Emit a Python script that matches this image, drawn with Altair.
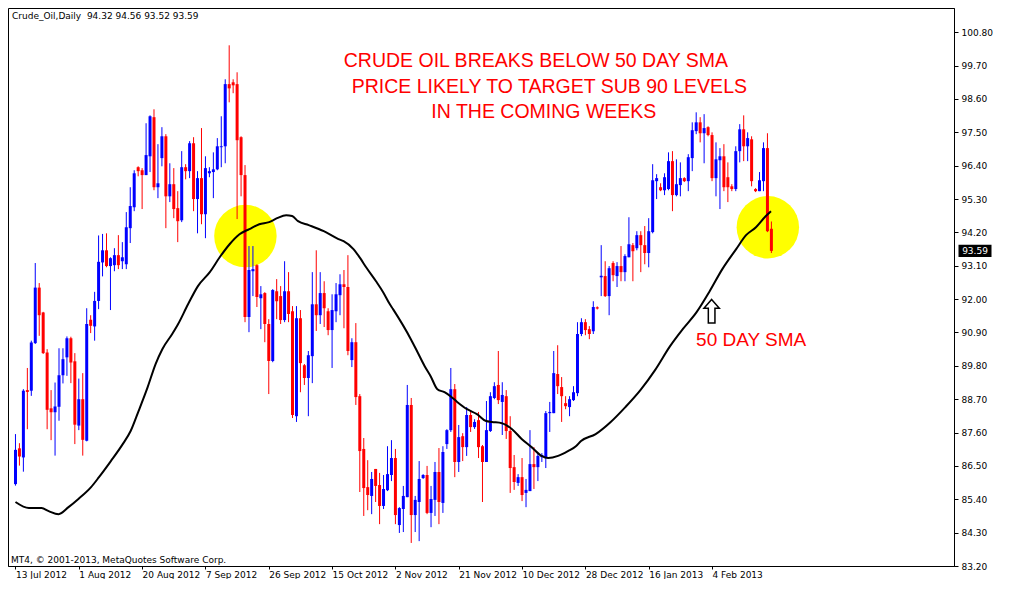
import json
import altair as alt
import pandas as pd

# ---------------- data ----------------
opens = [85.90, 87.08, 86.78, 89.00, 88.98, 90.55, 92.38, 91.56, 90.24, 88.40,
         88.27, 88.45, 89.49, 90.08, 90.71, 89.95, 87.83, 88.70, 87.33, 91.32,
         91.10, 91.94, 93.21, 93.61, 93.09, 93.12, 93.45, 93.25, 93.15, 94.34,
         95.03, 96.35, 96.25, 96.09, 96.71, 98.00, 95.69, 96.65, 97.37, 95.39,
         95.79, 95.00, 94.60, 96.35, 96.22, 97.14, 95.30, 95.99, 94.80, 96.15,
         96.19, 96.28, 97.01, 97.04, 99.09, 99.15, 99.09, 97.34, 96.09, 91.41,
         92.92, 93.12, 92.03, 92.20, 91.18, 89.96, 92.26, 92.10, 91.31, 92.26,
         91.60, 88.14, 91.37, 89.82, 89.40, 90.12, 91.83, 91.47, 92.20, 91.60,
         90.98, 91.60, 92.13, 92.49, 92.40, 89.99, 90.58, 88.80, 87.06, 85.80,
         85.51, 86.40, 85.87, 85.18, 85.70, 86.20, 86.76, 84.55, 85.08, 85.47,
         88.51, 84.88, 85.31, 86.10, 86.20, 84.95, 85.38, 86.30, 85.28, 87.22,
         87.68, 89.03, 86.63, 87.48, 87.12, 88.18, 87.78, 88.01, 87.15, 86.63,
         87.65, 88.74, 89.17, 88.61, 88.80, 87.65, 86.46, 85.94, 86.13, 85.61,
         85.67, 86.56, 86.46, 86.79, 86.79, 88.24, 88.24, 89.53, 89.10, 88.57,
         88.44, 88.67, 88.90, 90.85, 91.24, 91.01, 90.94, 91.73, 92.72, 92.76,
         92.10, 93.19, 92.76, 93.09, 92.89, 93.38, 93.78, 93.68, 94.11, 93.78,
         93.52, 94.21, 95.89, 95.69, 95.59, 95.63, 96.55, 95.43, 95.76, 95.99,
         95.89, 96.65, 97.54, 97.83, 97.47, 97.67, 97.41, 95.99, 96.58, 96.71,
         96.02, 95.72, 95.63, 96.88, 97.60, 97.04, 97.27, 95.63, 95.56, 95.89,
         96.98, 94.32]
highs = [87.55, 87.25, 89.03, 89.73, 90.63, 93.19, 92.53, 91.58, 90.35, 89.00,
         89.25, 90.38, 90.38, 90.77, 90.76, 90.22, 89.38, 89.56, 91.70, 91.47,
         92.24, 94.10, 94.15, 94.17, 93.38, 93.68, 94.11, 93.88, 94.87, 95.69,
         96.25, 96.38, 96.32, 97.80, 98.06, 98.26, 97.11, 97.67, 97.44, 96.48,
         96.32, 95.56, 96.88, 96.45, 97.21, 97.34, 96.22, 97.64, 96.71, 96.35,
         96.84, 97.31, 98.03, 99.25, 100.37, 99.25, 99.48, 97.37, 96.42, 93.75,
         93.75, 93.15, 92.43, 92.23, 91.34, 92.33, 92.66, 92.43, 93.25, 92.89,
         91.77, 91.77, 91.64, 89.86, 90.29, 92.89, 93.61, 92.89, 92.59, 91.70,
         92.16, 92.53, 92.82, 92.96, 93.45, 90.71, 91.21, 88.87, 87.42, 86.69,
         86.30, 86.40, 86.27, 86.20, 87.15, 87.35, 87.06, 85.14, 85.84, 89.17,
         88.74, 85.51, 86.66, 86.23, 86.50, 85.84, 86.63, 87.09, 87.15, 87.71,
         89.73, 89.20, 87.85, 87.58, 88.44, 88.34, 88.04, 88.28, 87.19, 88.64,
         88.93, 89.26, 90.29, 89.26, 89.00, 88.14, 86.86, 86.23, 86.76, 86.07,
         87.68, 87.12, 86.92, 86.92, 88.31, 88.61, 90.29, 90.48, 89.43, 88.80,
         88.80, 89.13, 91.24, 91.37, 91.34, 91.11, 91.93, 91.76, 93.78, 93.25,
         93.09, 93.25, 93.22, 93.75, 93.48, 94.70, 93.85, 94.24, 94.24, 94.41,
         94.67, 96.45, 96.12, 95.82, 96.15, 96.84, 96.88, 96.61, 96.51, 96.02,
         96.78, 97.83, 98.16, 98.00, 98.10, 97.70, 97.50, 97.17, 96.98, 97.11,
         96.51, 95.79, 97.04, 97.77, 98.06, 97.50, 97.37, 95.66, 96.19, 97.17,
         97.47, 94.56]
lows = [85.85, 86.51, 86.31, 87.71, 88.81, 90.52, 90.79, 90.19, 87.71, 87.35,
        86.84, 87.99, 89.22, 89.47, 89.23, 87.22, 87.68, 86.84, 87.31, 90.88,
        90.63, 91.67, 92.75, 93.05, 91.64, 92.92, 92.99, 92.99, 92.99, 93.85,
        94.90, 96.05, 94.97, 96.09, 96.19, 95.59, 95.33, 96.38, 94.34, 95.20,
        94.67, 93.88, 94.54, 95.95, 95.99, 94.90, 94.17, 94.47, 94.01, 96.02,
        95.33, 96.25, 96.35, 96.48, 98.49, 98.79, 94.64, 95.39, 91.24, 90.91,
        92.10, 91.74, 91.01, 90.58, 88.87, 89.92, 91.34, 91.18, 91.24, 91.24,
        88.08, 87.95, 88.93, 89.17, 88.14, 89.23, 90.95, 91.18, 91.08, 90.81,
        89.73, 91.24, 91.47, 91.04, 90.15, 89.76, 88.51, 85.64, 84.85, 85.04,
        84.91, 85.31, 84.58, 85.08, 85.67, 86.00, 84.58, 84.29, 84.32, 85.47,
        83.96, 84.32, 84.02, 86.07, 84.91, 84.48, 84.85, 84.58, 84.95, 87.06,
        87.62, 86.13, 86.30, 86.66, 86.83, 87.62, 87.72, 86.76, 85.31, 86.63,
        87.62, 88.70, 88.54, 87.52, 87.39, 85.61, 85.71, 85.84, 85.34, 85.14,
        85.67, 85.74, 86.00, 86.63, 86.43, 87.62, 88.24, 88.87, 87.95, 88.37,
        88.14, 88.64, 88.80, 90.78, 90.81, 90.68, 90.85, 91.66, 92.10, 92.07,
        91.47, 92.59, 92.40, 92.59, 92.59, 93.38, 92.59, 93.61, 92.89, 93.15,
        93.05, 94.17, 95.30, 95.56, 95.43, 95.59, 94.90, 95.39, 95.39, 95.86,
        95.56, 96.22, 97.44, 97.17, 96.48, 97.37, 95.89, 95.39, 94.97, 95.56,
        95.20, 95.56, 95.56, 96.51, 96.55, 96.55, 95.72, 95.53, 95.56, 95.56,
        94.21, 93.52]
closes = [87.03, 86.81, 88.98, 88.94, 90.57, 92.38, 91.47, 90.22, 88.35, 88.27,
          88.46, 89.49, 90.02, 90.71, 89.91, 87.86, 88.70, 87.36, 91.18, 91.12,
          91.94, 93.23, 93.61, 93.09, 93.35, 93.45, 93.12, 93.38, 94.37, 95.07,
          96.15, 96.22, 96.09, 96.75, 98.03, 95.69, 95.82, 97.37, 95.39, 95.79,
          94.97, 94.57, 96.35, 96.22, 97.14, 95.30, 95.99, 94.80, 96.32, 96.22,
          96.28, 97.04, 97.04, 99.09, 98.95, 99.05, 97.24, 96.09, 91.41, 92.96,
          92.99, 92.07, 92.16, 91.18, 89.96, 92.30, 91.93, 91.31, 92.26, 91.51,
          88.18, 91.37, 89.89, 89.40, 90.15, 91.83, 91.47, 92.20, 91.70, 90.98,
          91.64, 92.16, 92.49, 92.40, 90.29, 90.58, 88.77, 86.99, 85.77, 85.54,
          86.07, 85.84, 85.18, 85.74, 86.23, 86.76, 84.88, 85.11, 85.51, 88.51,
          84.88, 85.38, 86.07, 86.20, 84.95, 85.41, 86.30, 85.31, 86.96, 87.68,
          89.03, 86.63, 87.45, 87.12, 88.18, 87.78, 87.95, 87.12, 86.63, 87.68,
          88.80, 89.13, 88.67, 88.84, 87.65, 86.43, 85.97, 86.13, 85.54, 85.71,
          86.56, 86.46, 86.83, 86.86, 88.24, 88.28, 89.56, 89.13, 88.80, 88.47,
          88.70, 88.93, 90.85, 91.24, 90.98, 90.85, 91.74, 91.69, 92.77, 92.10,
          93.02, 92.79, 93.09, 92.89, 93.42, 93.81, 93.58, 94.11, 93.78, 93.52,
          94.24, 95.92, 95.99, 95.59, 96.02, 96.55, 95.43, 95.79, 95.99, 95.89,
          96.68, 97.57, 97.83, 97.47, 97.64, 97.41, 95.99, 96.61, 96.71, 95.69,
          95.69, 95.63, 96.88, 97.60, 97.04, 97.31, 95.89, 95.56, 95.92, 96.98,
          94.24, 93.59]

# 50-day SMA (bar position, value)
sma_bar = [0, 3.4, 6.6, 8.4, 10.9, 13.4, 15.9, 19.1, 21.1, 24.1, 27.1, 29.1,
           31.1, 33.4, 35.4, 37.1, 39.6, 41.1, 43.6, 46.1, 49.1, 51.6, 54.1,
           56.6, 59.1, 61.6, 64.1, 66.1, 68.4, 69.9, 71.4, 74.1, 77.9, 81.6,
           82.9, 85.4, 87.1, 88.6, 91.1, 92.9, 94.6, 95.4, 99.9, 101.6, 103.4,
           104.9, 106.6, 108.4, 109.9, 111.6, 114.1, 116.6, 118.9, 120.4, 122.9,
           125.4, 127.9, 130.4, 132.9, 134.6, 137.1, 139.6, 141.6, 142.9, 146.6,
           150.4, 154.1, 157.9, 161.6, 165.4, 168.6, 172.1, 175.4, 178.6, 182.1,
           184.6, 187.1, 189.6, 190.9]
sma_val = [85.31, 85.11, 85.11, 85.01, 84.91, 85.14, 85.41, 85.80, 86.13, 86.66,
           87.22, 87.65, 88.31, 89.10, 89.86, 90.35, 90.85, 91.18, 91.83, 92.43,
           92.89, 93.38, 93.81, 94.14, 94.31, 94.47, 94.54, 94.67, 94.77, 94.74,
           94.57, 94.44, 94.24, 93.98, 93.91, 93.65, 93.35, 93.05, 92.59, 92.23,
           91.83, 91.67, 90.68, 90.25, 89.79, 89.46, 89.03, 88.93, 88.80, 88.61,
           88.37, 88.21, 87.98, 87.95, 87.91, 87.72, 87.39, 87.12, 86.83, 86.76,
           86.83, 86.99, 87.15, 87.32, 87.55, 87.95, 88.44, 89.00, 89.66, 90.45,
           91.01, 91.57, 92.26, 92.99, 93.65, 94.11, 94.37, 94.74, 94.90]

x_labels = ["13 Jul 2012", "1 Aug 2012", "20 Aug 2012", "7 Sep 2012",
            "26 Sep 2012", "15 Oct 2012", "2 Nov 2012", "21 Nov 2012",
            "10 Dec 2012", "28 Dec 2012", "16 Jan 2013", "4 Feb 2013"]
x_label_bars = [0, 16, 32, 48, 64, 80, 96, 112, 128, 144, 160, 176]
y_ticks = [83.20, 84.30, 85.40, 86.50, 87.60, 88.70, 89.80, 90.90, 92.00,
           93.10, 94.20, 95.30, 96.40, 97.50, 98.60, 99.70, 100.80]

headline = ["CRUDE OIL BREAKS BELOW 50 DAY SMA",
            "PRICE LIKELY TO TARGET SUB 90 LEVELS",
            "IN THE COMING WEEKS"]
headline_bar = [131.5, 134.9, 133.5]
headline_price = [99.86, 98.98, 98.18]

circle_bar = [58.1, 190.1]
circle_price = [94.08, 94.37]

last_price = 93.59
info_text = "Crude_Oil,Daily\u00a0 94.32 94.56 93.52 93.59"
copyright_text = "MT4, \u00a9 2001-2013, MetaQuotes Software Corp."

# ---------------- chart ----------------
W, H = 946, 558
FONT = "DejaVu Sans"

df = pd.DataFrame({
    "bar": list(range(len(opens))),
    "open": opens, "high": highs, "low": lows, "close": closes,
})
df["dir"] = ["up" if c >= o else "down" for o, c in zip(opens, closes)]

xs = alt.Scale(domain=[-0.625, 235.875], nice=False, zero=False)
ys = alt.Scale(domain=[83.2, 101.6], nice=False, zero=False)
col = alt.Color("dir:N", scale=alt.Scale(domain=["up", "down"],
                                          range=["#0000FF", "#FF0000"]),
                legend=None)

label_expr = json.dumps(x_labels).replace('"', "'") + "[round(datum.value/16)]"

x_axis = alt.Axis(values=x_label_bars, labelExpr=label_expr, labelAlign="left",
                  labelFlush=False, labelOverlap=False, grid=False, title=None,
                  tickSize=3, tickColor="black", domainColor="black",
                  labelFont=FONT, labelFontSize=9, labelColor="black",
                  labelPadding=1)
y_axis = alt.Axis(values=y_ticks, format=".2f", orient="right", grid=False,
                  title=None, tickSize=4, tickColor="black",
                  labelOverlap=False, labelFlush=False, labelBound=False,
                  domainColor="black", labelFont=FONT, labelFontSize=9,
                  labelColor="black", labelPadding=3)

base = alt.Chart(df)

circles = alt.Chart(pd.DataFrame({"bar": circle_bar, "price": circle_price})).mark_point(
    shape="circle", filled=True, color="#FFFF00", opacity=1, size=3900
).encode(
    x=alt.X("bar:Q", scale=xs, axis=x_axis),
    y=alt.Y("price:Q", scale=ys, axis=y_axis),
)

wicks = base.mark_rule(strokeWidth=1).encode(
    x=alt.X("bar:Q", scale=xs, axis=x_axis),
    y=alt.Y("low:Q", scale=ys, axis=y_axis),
    y2="high:Q",
    color=col,
)

bodies = base.mark_bar(width=3).encode(
    x=alt.X("bar:Q", scale=xs, axis=x_axis),
    y=alt.Y("open:Q", scale=ys, axis=y_axis),
    y2="close:Q",
    color=col,
)

sma = alt.Chart(pd.DataFrame({"bar": sma_bar, "sma": sma_val})).mark_line(
    color="black", strokeWidth=2, interpolate="monotone"
).encode(
    x=alt.X("bar:Q", scale=xs, axis=x_axis),
    y=alt.Y("sma:Q", scale=ys, axis=y_axis),
)

heads = alt.Chart(pd.DataFrame({"bar": headline_bar, "price": headline_price,
                                "txt": headline})).mark_text(
    font="Liberation Sans", fontSize=19.5, color="#FF0000", align="center",
    baseline="middle"
).encode(
    x=alt.X("bar:Q", scale=xs, axis=x_axis),
    y=alt.Y("price:Q", scale=ys, axis=y_axis),
    text="txt:N",
)

sma_label = alt.Chart(pd.DataFrame({"bar": [185.9], "price": [90.65],
                                    "txt": ["50 DAY SMA"]})).mark_text(
    font="Liberation Sans", fontSize=19, color="#FF0000", align="center",
    baseline="middle"
).encode(
    x=alt.X("bar:Q", scale=xs, axis=x_axis),
    y=alt.Y("price:Q", scale=ys, axis=y_axis),
    text="txt:N",
)

arrow = alt.Chart(pd.DataFrame({"bar": [175.9], "price": [91.60]})).mark_point(
    shape="M0,-1L0.65,-0.25L0.28,-0.25L0.28,1L-0.28,1L-0.28,-0.25L-0.65,-0.25Z",
    size=560, filled=True, fill="white", stroke="black", strokeWidth=1.5,
    opacity=1
).encode(
    x=alt.X("bar:Q", scale=xs, axis=x_axis),
    y=alt.Y("price:Q", scale=ys, axis=y_axis),
)

tag_df = pd.DataFrame({"price": [last_price], "txt": [f"{last_price:.2f}"]})
tag_box = alt.Chart(tag_df).mark_point(
    shape="M-1.5,-0.55H1.5V0.55H-1.5Z", size=484, filled=True,
    color="black", opacity=1
).encode(
    x=alt.value(W + 21),
    y=alt.Y("price:Q", scale=ys, axis=y_axis),
)
tag_txt = alt.Chart(tag_df).mark_text(
    font=FONT, fontSize=9, color="white", align="center", baseline="middle"
).encode(
    x=alt.value(W + 21),
    y=alt.Y("price:Q", scale=ys, axis=y_axis),
    text="txt:N",
)

info = alt.Chart(pd.DataFrame({"txt": [info_text]})).mark_text(
    font=FONT, fontSize=9, color="black", align="left", baseline="middle"
).encode(x=alt.value(4), y=alt.value(8), text="txt:N")

copy_ = alt.Chart(pd.DataFrame({"txt": [copyright_text]})).mark_text(
    font=FONT, fontSize=9, color="black", align="left", baseline="middle"
).encode(x=alt.value(3), y=alt.value(H - 6), text="txt:N")

chart = alt.layer(
    circles, wicks, bodies, sma, heads, sma_label, arrow, tag_box, tag_txt,
    info, copy_
).properties(
    width=W, height=H,
    padding={"left": 0, "top": 0, "right": 4, "bottom": 0},
    background="white",
).configure_view(
    stroke="black", strokeWidth=1
).configure_axis(
    labelOverlap=False
)

chart.save("out.html", embed_options={"renderer": "svg", "actions": False})
